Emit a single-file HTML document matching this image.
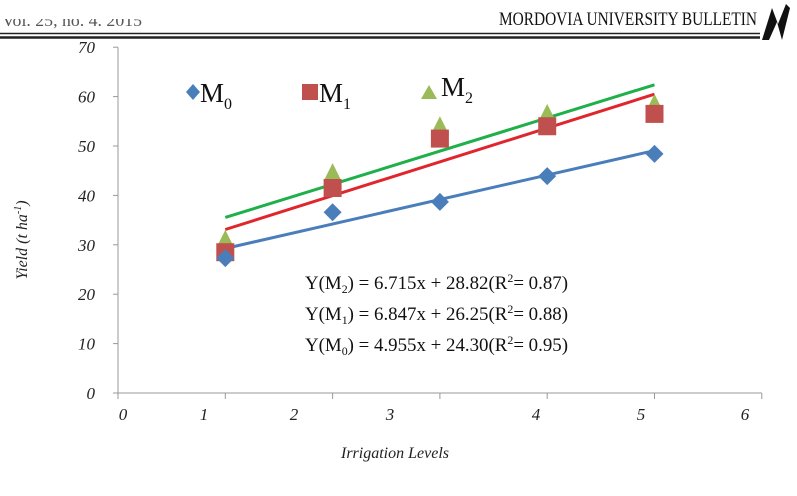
<!DOCTYPE html>
<html><head><meta charset="utf-8">
<style>
html,body{margin:0;padding:0;background:#fff;}
body{width:797px;height:491px;overflow:hidden;position:relative;font-family:"Liberation Serif",serif;}
svg text{font-family:"Liberation Serif",serif;}
</style></head>
<body>
<svg id="chart" width="797" height="491" viewBox="0 0 797 491" xmlns="http://www.w3.org/2000/svg">
  <g>
    <clipPath id="hclip"><rect x="0" y="19" width="200" height="15"/></clipPath>
    <text x="2" y="26" font-size="17" fill="#555" textLength="140" lengthAdjust="spacingAndGlyphs" clip-path="url(#hclip)">Vol. 25, no. 4. 2015</text>
    <text x="757" y="25" font-size="19" text-anchor="end" fill="#111" textLength="258" lengthAdjust="spacingAndGlyphs">MORDOVIA UNIVERSITY BULLETIN</text>
    <line x1="0" y1="33.5" x2="760" y2="33.5" stroke="#222" stroke-width="1.5"/>
    <line x1="0" y1="37.5" x2="760" y2="37.5" stroke="#222" stroke-width="2.5"/>
    <path d="M762 40 L772 8 L778 24 L786 4 L790 8 L782 40 L777 22 L769 40 Z" fill="#111"/>
  </g>
  <g id="axes"></g>
  <g id="marks"></g>
  <g>
    <path d="M186 92 l7 -8 l7 8 l-7 8 Z" fill="#4a7ebb"/>
    <text x="200" y="102" font-size="27" fill="#111">M<tspan font-size="16" dy="7">0</tspan></text>
    <rect x="302" y="84" width="16" height="16" fill="#c0504d"/>
    <text x="319" y="102" font-size="27" fill="#111">M<tspan font-size="16" dy="7">1</tspan></text>
    <path d="M421 99 l8 -14 l8 14 Z" fill="#9bbb59"/>
    <text x="441" y="96" font-size="27" fill="#111">M<tspan font-size="16" dy="7">2</tspan></text>
  </g>
  <g font-size="19" fill="#111">
    <text x="305" y="289" textLength="263" lengthAdjust="spacingAndGlyphs">Y(M<tspan font-size="12" dy="4">2</tspan><tspan dy="-4">) = 6.715x + 28.82(R</tspan><tspan font-size="12" dy="-7">2</tspan><tspan dy="7">= 0.87)</tspan></text>
    <text x="305" y="320" textLength="263" lengthAdjust="spacingAndGlyphs">Y(M<tspan font-size="12" dy="4">1</tspan><tspan dy="-4">) = 6.847x + 26.25(R</tspan><tspan font-size="12" dy="-7">2</tspan><tspan dy="7">= 0.88)</tspan></text>
    <text x="305" y="351" textLength="263" lengthAdjust="spacingAndGlyphs">Y(M<tspan font-size="12" dy="4">0</tspan><tspan dy="-4">) = 4.955x + 24.30(R</tspan><tspan font-size="12" dy="-7">2</tspan><tspan dy="7">= 0.95)</tspan></text>
  </g>
  <text transform="translate(27,240) rotate(-90)" text-anchor="middle" font-size="16" font-style="italic" fill="#222">Yield (t ha<tspan font-size="10" dy="-6">-1</tspan><tspan dy="6">)</tspan></text>
  <text x="395" y="458" text-anchor="middle" font-size="16" font-style="italic" fill="#222">Irrigation Levels</text>
</svg>
<script>
const xCategories = [1, 2, 3, 4, 5];
const m0Values = [27.3, 36.6, 38.7, 43.9, 48.4];
const m1Values = [28.5, 41.5, 51.5, 54.0, 56.5];
const m2Values = [31.0, 44.5, 54.0, 56.5, 58.5];
const m0Fit = [4.955, 24.30];
const m1Fit = [6.847, 26.25];
const m2Fit = [6.715, 28.82];
const yTicks = [0, 10, 20, 30, 40, 50, 60, 70];
const xTicks = [0, 1, 2, 3, 4, 5, 6];
const xTickLabels = ["0", "1", "2", "3", "4", "5", "6"];

const NS = "http://www.w3.org/2000/svg";
const X0 = 118, XS = 107.3, Y0 = 393, YS = 4.94;
function xs(v){ return X0 + v * XS; }
function ys(v){ return Y0 - v * YS; }
function mk(tag, attrs, parent){
  const e = document.createElementNS(NS, tag);
  for (const k in attrs) e.setAttribute(k, attrs[k]);
  parent.appendChild(e);
  return e;
}
const axes = document.getElementById('axes');
const marks = document.getElementById('marks');

let l = mk('line', {x1: X0, y1: ys(70), x2: X0, y2: Y0, stroke: '#999', 'stroke-width': 1}, axes);


l = mk('line', {x1: X0, y1: Y0, x2: xs(6), y2: Y0, stroke: '#999', 'stroke-width': 1}, axes);



yTicks.forEach(t => {
  const tk = mk('line', {x1: X0 - 5, y1: ys(t), x2: X0, y2: ys(t), stroke: '#999'}, axes);
  
  
  const tx = mk('text', {x: 95, y: ys(t) + 6, 'text-anchor': 'end', 'font-size': 17, 'font-style': 'italic', fill: '#222'}, axes);
  tx.textContent = String(t);
  
  
});
const labelX = [123, 204, 294, 390, 536, 641, 745];
xTicks.forEach((t, i) => {
  const tk = mk('line', {x1: xs(t), y1: Y0, x2: xs(t), y2: Y0 + 6, stroke: '#999'}, axes);
  
  
  const tx = mk('text', {x: labelX[i], y: Y0 + 27, 'text-anchor': 'middle', 'font-size': 17, 'font-style': 'italic', fill: '#222'}, axes);
  tx.textContent = xTickLabels[i];
  
  
});

function trend(fit, color, name){
  const a = xCategories[0], b = xCategories[xCategories.length - 1];
  const ln = mk('line', {x1: xs(a), y1: ys(fit[0]*a + fit[1]), x2: xs(b), y2: ys(fit[0]*b + fit[1]), stroke: color, 'stroke-width': 3}, marks);
  
  
}
trend(m0Fit, '#4a7ebb', 'trendline-m0');
trend(m1Fit, '#e0262c', 'trendline-m1');
trend(m2Fit, '#1fb04a', 'trendline-m2');

m2Values.forEach((v, i) => {
  const cx = xs(xCategories[i]), cy = ys(v);
  const p = mk('path', {d: `M${cx-9} ${cy+8} L${cx} ${cy-10} L${cx+9} ${cy+8} Z`, fill: '#9bbb59'}, marks);
  
  
});
m1Values.forEach((v, i) => {
  const cx = xs(xCategories[i]), cy = ys(v);
  const p = mk('rect', {x: cx - 9, y: cy - 9, width: 18, height: 18, fill: '#c0504d'}, marks);
  
  
});
m0Values.forEach((v, i) => {
  const cx = xs(xCategories[i]), cy = ys(v);
  const p = mk('path', {d: `M${cx-9} ${cy} L${cx} ${cy-9} L${cx+9} ${cy} L${cx} ${cy+9} Z`, fill: '#4a7ebb'}, marks);
  
  
});
</script>
</body></html>
